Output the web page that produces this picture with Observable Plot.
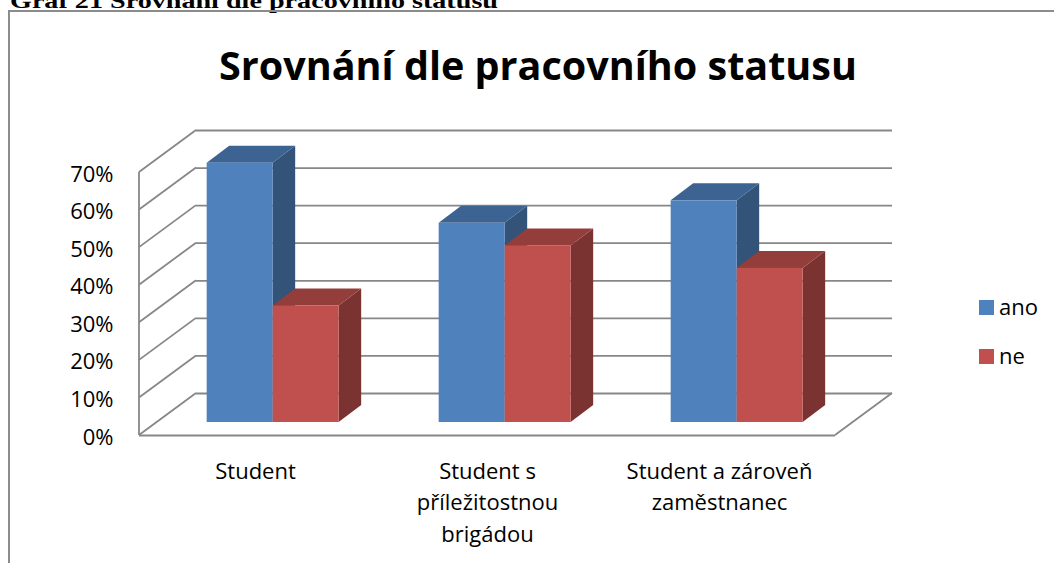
<!DOCTYPE html>
<html>
<head>
<meta charset="utf-8">
<script src="https://cdn.jsdelivr.net/npm/d3@7"></script>
<script src="https://cdn.jsdelivr.net/npm/@observablehq/plot@0.6"></script>
<style>
  html, body { margin: 0; padding: 0; background: #fff; }
  #chart svg { display: block; }
</style>
</head>
<body>
<div id="chart"></div>
<script>
// ---- data ----
const categories = ["Student", "Student s\npříležitostnou\nbrigádou", "Student a zároveň\nzaměstnanec"];
const series = ["ano", "ne"];
const anoValues = [0.69, 0.53, 0.59];
const neValues = [0.31, 0.47, 0.41];
const yTicks = [0, 0.1, 0.2, 0.3, 0.4, 0.5, 0.6, 0.7];
const seriesColors = ["#4F81BD", "#C0504D"];
const chartTitle = "Srovnání dle pracovního statusu";
const captionText = "Graf 21 Srovnání dle pracovního statusu";

const rows = [];
categories.forEach((c, i) => {
  rows.push({category: c, series: "ano", value: anoValues[i]});
  rows.push({category: c, series: "ne", value: neValues[i]});
});

// ---- layout / style ----
const W = 1054, H = 563;
const M = {left: 139, right: 219, top: 172, bottom: 128};
const FLOOR = {dx: 57, dy: -42};          // depth vector of floor / walls
const BAR_START = 0.31;                     // bars start at this fraction of depth
const FRONT = {dx: FLOOR.dx * BAR_START, dy: FLOOR.dy * BAR_START};
const BAR_DEPTH = {dx: 22.5, dy: -17};
const BAR_W = 66;
const BAND = (W - M.left - M.right) / categories.length;
const GRID = "#878787";
const FONT = "'Open Sans', 'DejaVu Sans', sans-serif";

function shade(c, k) {
  const r = d3.rgb(c);
  return d3.rgb(r.r * k, r.g * k, r.b * k).formatHex();
}

// frame border + caption + title
function decorations(index, scales, values, dims) {
  const g = d3.create("svg:g");
  g.append("text")
    .attr("x", 10).attr("y", 8)
    .attr("text-anchor", "start")
    .attr("font-family", "'Liberation Serif', 'DejaVu Serif', serif")
    .attr("font-weight", "bold").attr("font-size", 22)
    .attr("textLength", 488).attr("lengthAdjust", "spacingAndGlyphs")
    .attr("fill", "#000")
    .text(captionText);
  g.append("path")
    .attr("d", `M9,${dims.height + 5}V11H${dims.width + 5}`)
    .attr("fill", "none").attr("stroke", "#8c8c8c").attr("stroke-width", 2);
  g.append("text")
    .attr("x", 538).attr("y", 80)
    .attr("text-anchor", "middle")
    .attr("font-family", FONT).attr("font-weight", "bold").attr("font-size", 40)
    .attr("textLength", 638).attr("lengthAdjust", "spacingAndGlyphs")
    .attr("fill", "#000")
    .text(chartTitle);
  return g.node();
}

// left wall slants, front edge, floor right slant
function walls(index, scales, values, dims) {
  const g = d3.create("svg:g")
    .attr("fill", "none").attr("stroke", GRID).attr("stroke-width", 1.8);
  const xl = dims.marginLeft, xr = dims.width - dims.marginRight;
  for (const t of yTicks) {
    const y = scales.y(t);
    g.append("path").attr("d", `M${xl},${y}L${xl + FLOOR.dx},${y + FLOOR.dy}`);
  }
  g.append("path").attr("d", `M${xl},${scales.y(0)}V${scales.y(yTicks[yTicks.length - 1])}`);
  g.append("path").attr("d", `M${xr},${scales.y(0)}L${xr + FLOOR.dx},${scales.y(0) + FLOOR.dy}`);
  return g.node();
}

function barFaces(kind) {
  return (index, scales, values, dims) => {
    const g = d3.create("svg:g");
    const bw = scales.x.bandwidth ? scales.x.bandwidth() : BAND;
    for (const r of rows) {
      const si = series.indexOf(r.series);
      const cx = scales.x(r.category) + bw / 2 + FRONT.dx;
      const x0 = si === 0 ? cx - BAR_W : cx;
      const x1 = x0 + BAR_W;
      const yT = scales.y(r.value) + FRONT.dy;
      const yB = scales.y(0) + FRONT.dy;
      const base = scales.color(r.series);
      let pts, fill;
      if (kind === "side") {
        pts = [[x1, yT], [x1 + BAR_DEPTH.dx, yT + BAR_DEPTH.dy], [x1 + BAR_DEPTH.dx, yB + BAR_DEPTH.dy], [x1, yB]];
        fill = shade(base, 0.64);
      } else {
        pts = [[x0, yT], [x1, yT], [x1 + BAR_DEPTH.dx, yT + BAR_DEPTH.dy], [x0 + BAR_DEPTH.dx, yT + BAR_DEPTH.dy]];
        fill = shade(base, 0.77);
      }
      g.append("path").attr("d", "M" + pts.map(p => p.join(",")).join("L") + "Z").attr("fill", fill);
    }
    return g.node();
  };
}

function legend(index, scales, values, dims) {
  const g = d3.create("svg:g");
  series.forEach((s, i) => {
    const y = 300 + i * 49;
    g.append("rect").attr("x", 979).attr("y", y).attr("width", 15).attr("height", 15)
      .attr("fill", scales.color(s));
    g.append("text").attr("x", 999).attr("y", y + 15)
      .attr("text-anchor", "start")
      .attr("font-family", FONT).attr("font-size", 22).attr("fill", "#000")
      .text(s);
  });
  return g.node();
}

const chart = Plot.plot({
  width: W, height: H,
  marginLeft: M.left, marginRight: M.right, marginTop: M.top, marginBottom: M.bottom,
  style: {fontFamily: FONT, background: "#fff", color: "#000", overflow: "visible"},
  x: {type: "band", domain: categories, paddingInner: 0, paddingOuter: 0, axis: null},
  y: {domain: [0, 0.7], axis: null},
  color: {domain: series, range: seriesColors},
  marks: [
    decorations,
    Plot.ruleY(yTicks, {stroke: GRID, strokeWidth: 1.8, dx: FLOOR.dx, dy: FLOOR.dy}),
    Plot.ruleY([0], {stroke: GRID, strokeWidth: 1.8}),
    walls,
    barFaces("side"),
    barFaces("top"),
    Plot.barY(rows.filter(d => d.series === "ano"), {
      x: "category", y: "value", fill: "series",
      insetLeft: BAND / 2 - BAR_W, insetRight: BAND / 2, dx: FRONT.dx, dy: FRONT.dy
    }),
    Plot.barY(rows.filter(d => d.series === "ne"), {
      x: "category", y: "value", fill: "series",
      insetLeft: BAND / 2, insetRight: BAND / 2 - BAR_W, dx: FRONT.dx, dy: FRONT.dy
    }),
    Plot.text(yTicks, {
      y: d => d, text: d => d3.format(".0%")(d), frameAnchor: "left",
      textAnchor: "end", dx: -26, dy: 2, fontSize: 22, fill: "#000"
    }),
    Plot.text(categories, {
      x: d => d, text: d => d, frameAnchor: "bottom", lineAnchor: "top",
      dy: 21, fontSize: 22, lineHeight: 1.43, fill: "#000"
    }),
    legend
  ]
});
document.getElementById("chart").appendChild(chart);
</script>
</body>
</html>
